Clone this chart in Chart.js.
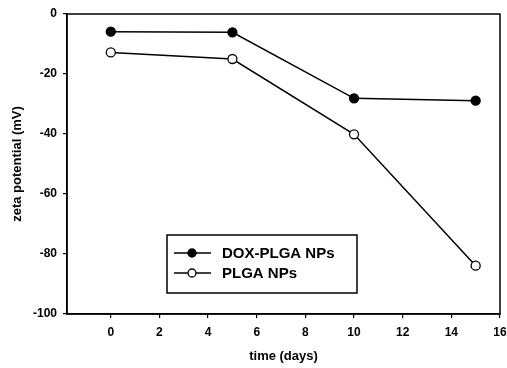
<!DOCTYPE html>
<html>
<head>
<meta charset="utf-8">
<script src="https://cdn.jsdelivr.net/npm/chart.js@4"></script>
<style>
  html, body { margin:0; padding:0; background:#fff; }
  #wrap { width:507px; height:368px; }
</style>
</head>
<body>
<div id="wrap"><canvas id="zetaChart" width="507" height="368"></canvas></div>
<script>
const days = [0, 5, 10, 15];
const doxPlga = [-5.9, -6.1, -28.1, -28.9];
const plga = [-12.8, -15.0, -40.1, -83.9];
const xTicks = [0, 2, 4, 6, 8, 10, 12, 14, 16];
const yTicks = [-100, -80, -60, -40, -20, 0];
const seriesNames = ["DOX-PLGA NPs", "PLGA NPs"];

const font = "Liberation Sans, Arial, sans-serif";

// box round the plot, legend and y title drawn by hand
const framePlugin = {
    id: "frame",
    afterDraw(chart){
        const ctx = chart.ctx;
        const a = chart.chartArea;
        ctx.save();
        ctx.strokeStyle = "#000";
        ctx.lineWidth = 1.5;
        ctx.strokeRect(a.left, a.top, a.right - a.left, a.bottom - a.top);

        // legend
        ctx.lineWidth = 1.5;
        ctx.strokeRect(167, 235, 190, 58);
        const rows = [253, 273];
        rows.forEach((y, i) => {
            ctx.beginPath();
            ctx.moveTo(174, y);
            ctx.lineTo(211, y);
            ctx.lineWidth = 1.3;
            ctx.stroke();
            ctx.beginPath();
            ctx.arc(192, y, 4, 0, Math.PI * 2);
            ctx.fillStyle = i === 0 ? "#000" : "#fff";
            ctx.fill();
            ctx.stroke();
            ctx.fillStyle = "#000";
            ctx.font = "bold 15px " + font;
            ctx.textBaseline = "middle";
            ctx.textAlign = "left";
            ctx.fillText(seriesNames[i], 222, y + 1);
        });

        // y title
        ctx.translate(17, (a.top + a.bottom) / 2);
        ctx.rotate(-Math.PI / 2);
        ctx.font = "bold 13px " + font;
        ctx.textAlign = "center";
        ctx.textBaseline = "middle";
        ctx.fillText("zeta potential (mV)", 0, 0);
        ctx.restore();
    }
};

const ctx = document.getElementById("zetaChart");

new Chart(ctx, {
    type: "scatter",
    data: {
        datasets: [
            {
                label: seriesNames[0],
                data: days.map((d, i) => ({x: d, y: doxPlga[i]})),
                showLine: true,
                borderColor: "#000",
                backgroundColor: "#000",
                borderWidth: 1.5,
                pointRadius: 4.5,
                pointBorderWidth: 1.3,
                pointBackgroundColor: "#000",
                pointBorderColor: "#000"
            },
            {
                label: seriesNames[1],
                data: days.map((d, i) => ({x: d, y: plga[i]})),
                showLine: true,
                borderColor: "#000",
                backgroundColor: "#fff",
                borderWidth: 1.5,
                pointRadius: 4.5,
                pointBorderWidth: 1.3,
                pointBackgroundColor: "#fff",
                pointBorderColor: "#000"
            }
        ]
    },
    options: {
        responsive: false,
        animation: false,
        layout: { padding: { top: 14, right: 7, left: 0, bottom: 0 } },
        plugins: {
            legend: { display: false },
            tooltip: { enabled: false }
        },
        scales: {
            x: {
                type: "linear",
                min: -1.8,
                max: 16,
                afterBuildTicks(scale){ scale.ticks = xTicks.map(v => ({value: v})); },
                afterFit(scale){
                    scale.height = 54;
                    scale.paddingRight = 0;
                    scale.paddingLeft = 0;
                },
                grid: { drawOnChartArea: false, drawTicks: true, tickLength: 4, color: "#000", lineWidth: 1.2 },
                border: { display: true, color: "#000", width: 1.5 },
                ticks: { color: "#000", font: { family: font, size: 12, weight: "bold" }, padding: 7, maxRotation: 0 },
                title: { display: true, text: "time (days)", color: "#000", font: { family: font, size: 13, weight: "bold" }, padding: { top: 2 } }
            },
            y: {
                min: -100,
                max: 0,
                afterBuildTicks(scale){ scale.ticks = yTicks.map(v => ({value: v})); },
                afterFit(scale){ scale.width = 67; },
                grid: { drawOnChartArea: false, drawTicks: true, tickLength: 4, color: "#000", lineWidth: 1.2 },
                border: { display: true, color: "#000", width: 1.5 },
                ticks: { color: "#000", font: { family: font, size: 12, weight: "bold" }, padding: 6 }
            }
        }
    },
    plugins: [framePlugin]
});
</script>
</body>
</html>
